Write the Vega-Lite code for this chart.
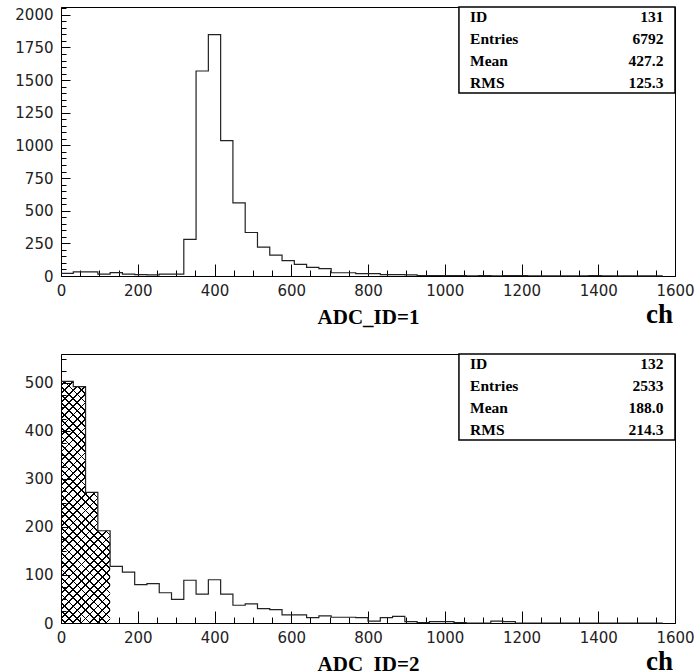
{
 "$schema": "https://vega.github.io/schema/vega-lite/v6.json",
 "background": "white",
 "padding": {"left": 14, "top": 0, "right": 4, "bottom": 0},
 "spacing": 22,
 "datasets": {
  "h131": [
   {"x":0,"n":20},{"x":32,"n":32},{"x":64,"n":32},{"x":96,"n":14},{"x":128,"n":26},{"x":160,"n":14},{"x":192,"n":10},{"x":224,"n":8},{"x":256,"n":14},{"x":288,"n":14},
   {"x":320,"n":280},{"x":352,"n":1570},{"x":384,"n":1848},{"x":416,"n":1036},{"x":448,"n":560},{"x":480,"n":333},{"x":512,"n":221},{"x":544,"n":160},{"x":576,"n":118},{"x":608,"n":89},
   {"x":640,"n":66},{"x":672,"n":56},{"x":704,"n":25},{"x":736,"n":25},{"x":768,"n":18},{"x":800,"n":18},{"x":832,"n":10},{"x":864,"n":10},{"x":896,"n":8},{"x":928,"n":4},
   {"x":960,"n":4},{"x":992,"n":3},{"x":1024,"n":3},{"x":1056,"n":2},{"x":1088,"n":3},{"x":1120,"n":2},{"x":1152,"n":3},{"x":1184,"n":3},{"x":1216,"n":2},{"x":1248,"n":1},
   {"x":1280,"n":1},{"x":1312,"n":1},{"x":1344,"n":2},{"x":1376,"n":3},{"x":1408,"n":2},{"x":1440,"n":1},{"x":1472,"n":1},{"x":1504,"n":1},{"x":1536,"n":1},{"x":1568,"n":1}
  ],
  "h132": [
   {"x":0,"n":503},{"x":32,"n":492},{"x":64,"n":272},{"x":96,"n":192},{"x":128,"n":118},{"x":160,"n":106},{"x":192,"n":80},{"x":224,"n":82},{"x":256,"n":63},{"x":288,"n":49},
   {"x":320,"n":89},{"x":352,"n":60},{"x":384,"n":90},{"x":416,"n":60},{"x":448,"n":37},{"x":480,"n":40},{"x":512,"n":30},{"x":544,"n":28},{"x":576,"n":17},{"x":608,"n":17},
   {"x":640,"n":11},{"x":672,"n":15},{"x":704,"n":12},{"x":736,"n":12},{"x":768,"n":11},{"x":800,"n":4},{"x":832,"n":11},{"x":864,"n":14},{"x":896,"n":3},{"x":928,"n":1},
   {"x":960,"n":3},{"x":992,"n":3},{"x":1024,"n":1},{"x":1056,"n":0},{"x":1088,"n":0},{"x":1120,"n":4},{"x":1152,"n":3},{"x":1184,"n":0},{"x":1216,"n":0},{"x":1248,"n":0},
   {"x":1280,"n":0},{"x":1312,"n":0},{"x":1344,"n":0},{"x":1376,"n":0},{"x":1408,"n":0},{"x":1440,"n":0},{"x":1472,"n":0},{"x":1504,"n":0},{"x":1536,"n":0},{"x":1568,"n":0}
  ]
 },
 "config": {
  "view": {"stroke": "black", "strokeWidth": 1},
  "axis": {"grid": false, "domainColor": "black", "domainWidth": 1, "tickColor": "black", "tickWidth": 1,
           "labelFont": "DejaVu Sans", "labelFontSize": 15, "labelColor": "#222", "labelOverlap": false, "labelFlush": false,
           "titleFont": "Liberation Serif", "titleFontWeight": "bold", "titleFontSize": 21, "titleColor": "black"}
 },
 "vconcat": [
  {
   "width": 614, "height": 269,
   "data": {"name": "h131"},
   "layer": [
    {"mark": {"type": "line", "interpolate": "step-after", "color": "#222", "strokeWidth": 1.2},
     "encoding": {
      "x": {"field": "x", "type": "quantitative", "scale": {"domain": [0, 1600], "nice": false},
            "axis": {"title": "ADC_ID=1", "format": "d", "values": [0,50,100,150,200,250,300,350,400,450,500,550,600,650,700,750,800,850,900,950,1000,1050,1100,1150,1200,1250,1300,1350,1400,1450,1500,1550,1600], "labelExpr": "datum.value % 200 === 0 ? datum.label : ''", "labelOverlap": false, "tickSize": {"expr": "datum.value % 200 === 0 ? -12 : -6"}, "labelPadding": 19, "titleY": 47, "titleBaseline": "alphabetic"}},
      "y": {"field": "n", "type": "quantitative", "scale": {"domain": [0, 2060], "nice": false},
            "axis": {"title": null, "format": "d", "values": [0,50,100,150,200,250,300,350,400,450,500,550,600,650,700,750,800,850,900,950,1000,1050,1100,1150,1200,1250,1300,1350,1400,1450,1500,1550,1600,1650,1700,1750,1800,1850,1900,1950,2000,2050], "labelExpr": "datum.value % 250 === 0 ? datum.label : ''", "labelOverlap": false, "tickSize": {"expr": "datum.value % 250 === 0 ? -9 : -5"}, "labelPadding": 17}}
     }},
    {"data": {"values": [{}]},
     "mark": {"type": "rect", "fill": "white", "stroke": "black", "strokeWidth": 1.5},
     "encoding": {
      "x": {"datum": 1037, "type": "quantitative", "axis": {"title": "ADC_ID=1", "format": "d", "values": [0,50,100,150,200,250,300,350,400,450,500,550,600,650,700,750,800,850,900,950,1000,1050,1100,1150,1200,1250,1300,1350,1400,1450,1500,1550,1600], "labelExpr": "datum.value % 200 === 0 ? datum.label : ''", "labelOverlap": false, "tickSize": {"expr": "datum.value % 200 === 0 ? -12 : -6"}, "labelPadding": 19, "titleY": 47, "titleBaseline": "alphabetic"}},
      "x2": {"datum": 1600},
      "y": {"datum": 1402, "type": "quantitative", "axis": {"title": null, "format": "d", "values": [0,50,100,150,200,250,300,350,400,450,500,550,600,650,700,750,800,850,900,950,1000,1050,1100,1150,1200,1250,1300,1350,1400,1450,1500,1550,1600,1650,1700,1750,1800,1850,1900,1950,2000,2050], "labelExpr": "datum.value % 250 === 0 ? datum.label : ''", "labelOverlap": false, "tickSize": {"expr": "datum.value % 250 === 0 ? -9 : -5"}, "labelPadding": 17}},
      "y2": {"datum": 2060}}},
    {"data": {"values": [{}]},
     "mark": {"type": "text", "align": "left", "baseline": "top", "font": "Liberation Serif", "fontWeight": "bold", "fontSize": 15.5, "lineHeight": 22, "dy": 3, "color": "black",
              "text": ["ID", "Entries", "Mean", "RMS"]},
     "encoding": {
      "x": {"datum": 1066, "type": "quantitative", "axis": {"title": "ADC_ID=1", "format": "d", "values": [0,50,100,150,200,250,300,350,400,450,500,550,600,650,700,750,800,850,900,950,1000,1050,1100,1150,1200,1250,1300,1350,1400,1450,1500,1550,1600], "labelExpr": "datum.value % 200 === 0 ? datum.label : ''", "labelOverlap": false, "tickSize": {"expr": "datum.value % 200 === 0 ? -12 : -6"}, "labelPadding": 19, "titleY": 47, "titleBaseline": "alphabetic"}},
      "y": {"datum": 2060, "type": "quantitative", "axis": {"title": null, "format": "d", "values": [0,50,100,150,200,250,300,350,400,450,500,550,600,650,700,750,800,850,900,950,1000,1050,1100,1150,1200,1250,1300,1350,1400,1450,1500,1550,1600,1650,1700,1750,1800,1850,1900,1950,2000,2050], "labelExpr": "datum.value % 250 === 0 ? datum.label : ''", "labelOverlap": false, "tickSize": {"expr": "datum.value % 250 === 0 ? -9 : -5"}, "labelPadding": 17}}}},
    {"data": {"values": [{}]},
     "mark": {"type": "text", "align": "right", "baseline": "top", "font": "Liberation Serif", "fontWeight": "bold", "fontSize": 15.5, "lineHeight": 22, "dy": 3, "color": "black",
              "text": ["131", "6792", "427.2", "125.3"]},
     "encoding": {
      "x": {"datum": 1570, "type": "quantitative", "axis": {"title": "ADC_ID=1", "format": "d", "values": [0,50,100,150,200,250,300,350,400,450,500,550,600,650,700,750,800,850,900,950,1000,1050,1100,1150,1200,1250,1300,1350,1400,1450,1500,1550,1600], "labelExpr": "datum.value % 200 === 0 ? datum.label : ''", "labelOverlap": false, "tickSize": {"expr": "datum.value % 200 === 0 ? -12 : -6"}, "labelPadding": 19, "titleY": 47, "titleBaseline": "alphabetic"}},
      "y": {"datum": 2060, "type": "quantitative", "axis": {"title": null, "format": "d", "values": [0,50,100,150,200,250,300,350,400,450,500,550,600,650,700,750,800,850,900,950,1000,1050,1100,1150,1200,1250,1300,1350,1400,1450,1500,1550,1600,1650,1700,1750,1800,1850,1900,1950,2000,2050], "labelExpr": "datum.value % 250 === 0 ? datum.label : ''", "labelOverlap": false, "tickSize": {"expr": "datum.value % 250 === 0 ? -9 : -5"}, "labelPadding": 17}}}},
    {"data": {"values": [{}]},
     "mark": {"type": "text", "align": "right", "baseline": "alphabetic", "font": "Liberation Serif", "fontWeight": "bold", "fontSize": 27, "dx": -2, "dy": 47, "color": "black", "text": "ch"},
     "encoding": {
      "x": {"datum": 1600, "type": "quantitative", "axis": {"title": "ADC_ID=1", "format": "d", "values": [0,50,100,150,200,250,300,350,400,450,500,550,600,650,700,750,800,850,900,950,1000,1050,1100,1150,1200,1250,1300,1350,1400,1450,1500,1550,1600], "labelExpr": "datum.value % 200 === 0 ? datum.label : ''", "labelOverlap": false, "tickSize": {"expr": "datum.value % 200 === 0 ? -12 : -6"}, "labelPadding": 19, "titleY": 47, "titleBaseline": "alphabetic"}},
      "y": {"datum": 0, "type": "quantitative", "axis": {"title": null, "format": "d", "values": [0,50,100,150,200,250,300,350,400,450,500,550,600,650,700,750,800,850,900,950,1000,1050,1100,1150,1200,1250,1300,1350,1400,1450,1500,1550,1600,1650,1700,1750,1800,1850,1900,1950,2000,2050], "labelExpr": "datum.value % 250 === 0 ? datum.label : ''", "labelOverlap": false, "tickSize": {"expr": "datum.value % 250 === 0 ? -9 : -5"}, "labelPadding": 17}}}}
   ]
  },
  {
   "width": 614, "height": 269,
   "data": {"name": "h132"},
   "layer": [
    {"transform": [{"filter": "datum.x <= 128"}],
     "mark": {"type": "area", "interpolate": "step-after",
              "fill": {"gradient": "linear", "x1": 0, "y1": 1, "x2": 0.2349, "y2": -0.1556, "stops": [
{"offset":0.0113,"color":"transparent"},{"offset":0.0113,"color":"#000"},{"offset":0.0173,"color":"#000"},{"offset":0.0173,"color":"transparent"},
{"offset":0.0399,"color":"transparent"},{"offset":0.0399,"color":"#000"},{"offset":0.0459,"color":"#000"},{"offset":0.0459,"color":"transparent"},
{"offset":0.0684,"color":"transparent"},{"offset":0.0684,"color":"#000"},{"offset":0.0744,"color":"#000"},{"offset":0.0744,"color":"transparent"},
{"offset":0.0970,"color":"transparent"},{"offset":0.0970,"color":"#000"},{"offset":0.1030,"color":"#000"},{"offset":0.1030,"color":"transparent"},
{"offset":0.1256,"color":"transparent"},{"offset":0.1256,"color":"#000"},{"offset":0.1316,"color":"#000"},{"offset":0.1316,"color":"transparent"},
{"offset":0.1541,"color":"transparent"},{"offset":0.1541,"color":"#000"},{"offset":0.1601,"color":"#000"},{"offset":0.1601,"color":"transparent"},
{"offset":0.1827,"color":"transparent"},{"offset":0.1827,"color":"#000"},{"offset":0.1887,"color":"#000"},{"offset":0.1887,"color":"transparent"},
{"offset":0.2113,"color":"transparent"},{"offset":0.2113,"color":"#000"},{"offset":0.2173,"color":"#000"},{"offset":0.2173,"color":"transparent"},
{"offset":0.2399,"color":"transparent"},{"offset":0.2399,"color":"#000"},{"offset":0.2459,"color":"#000"},{"offset":0.2459,"color":"transparent"},
{"offset":0.2684,"color":"transparent"},{"offset":0.2684,"color":"#000"},{"offset":0.2744,"color":"#000"},{"offset":0.2744,"color":"transparent"},
{"offset":0.2970,"color":"transparent"},{"offset":0.2970,"color":"#000"},{"offset":0.3030,"color":"#000"},{"offset":0.3030,"color":"transparent"},
{"offset":0.3256,"color":"transparent"},{"offset":0.3256,"color":"#000"},{"offset":0.3316,"color":"#000"},{"offset":0.3316,"color":"transparent"},
{"offset":0.3541,"color":"transparent"},{"offset":0.3541,"color":"#000"},{"offset":0.3601,"color":"#000"},{"offset":0.3601,"color":"transparent"},
{"offset":0.3827,"color":"transparent"},{"offset":0.3827,"color":"#000"},{"offset":0.3887,"color":"#000"},{"offset":0.3887,"color":"transparent"},
{"offset":0.4113,"color":"transparent"},{"offset":0.4113,"color":"#000"},{"offset":0.4173,"color":"#000"},{"offset":0.4173,"color":"transparent"},
{"offset":0.4399,"color":"transparent"},{"offset":0.4399,"color":"#000"},{"offset":0.4459,"color":"#000"},{"offset":0.4459,"color":"transparent"},
{"offset":0.4684,"color":"transparent"},{"offset":0.4684,"color":"#000"},{"offset":0.4744,"color":"#000"},{"offset":0.4744,"color":"transparent"},
{"offset":0.4970,"color":"transparent"},{"offset":0.4970,"color":"#000"},{"offset":0.5030,"color":"#000"},{"offset":0.5030,"color":"transparent"},
{"offset":0.5256,"color":"transparent"},{"offset":0.5256,"color":"#000"},{"offset":0.5316,"color":"#000"},{"offset":0.5316,"color":"transparent"},
{"offset":0.5541,"color":"transparent"},{"offset":0.5541,"color":"#000"},{"offset":0.5601,"color":"#000"},{"offset":0.5601,"color":"transparent"},
{"offset":0.5827,"color":"transparent"},{"offset":0.5827,"color":"#000"},{"offset":0.5887,"color":"#000"},{"offset":0.5887,"color":"transparent"},
{"offset":0.6113,"color":"transparent"},{"offset":0.6113,"color":"#000"},{"offset":0.6173,"color":"#000"},{"offset":0.6173,"color":"transparent"},
{"offset":0.6399,"color":"transparent"},{"offset":0.6399,"color":"#000"},{"offset":0.6459,"color":"#000"},{"offset":0.6459,"color":"transparent"},
{"offset":0.6684,"color":"transparent"},{"offset":0.6684,"color":"#000"},{"offset":0.6744,"color":"#000"},{"offset":0.6744,"color":"transparent"},
{"offset":0.6970,"color":"transparent"},{"offset":0.6970,"color":"#000"},{"offset":0.7030,"color":"#000"},{"offset":0.7030,"color":"transparent"},
{"offset":0.7256,"color":"transparent"},{"offset":0.7256,"color":"#000"},{"offset":0.7316,"color":"#000"},{"offset":0.7316,"color":"transparent"},
{"offset":0.7541,"color":"transparent"},{"offset":0.7541,"color":"#000"},{"offset":0.7601,"color":"#000"},{"offset":0.7601,"color":"transparent"},
{"offset":0.7827,"color":"transparent"},{"offset":0.7827,"color":"#000"},{"offset":0.7887,"color":"#000"},{"offset":0.7887,"color":"transparent"},
{"offset":0.8113,"color":"transparent"},{"offset":0.8113,"color":"#000"},{"offset":0.8173,"color":"#000"},{"offset":0.8173,"color":"transparent"},
{"offset":0.8399,"color":"transparent"},{"offset":0.8399,"color":"#000"},{"offset":0.8459,"color":"#000"},{"offset":0.8459,"color":"transparent"},
{"offset":0.8684,"color":"transparent"},{"offset":0.8684,"color":"#000"},{"offset":0.8744,"color":"#000"},{"offset":0.8744,"color":"transparent"},
{"offset":0.8970,"color":"transparent"},{"offset":0.8970,"color":"#000"},{"offset":0.9030,"color":"#000"},{"offset":0.9030,"color":"transparent"},
{"offset":0.9256,"color":"transparent"},{"offset":0.9256,"color":"#000"},{"offset":0.9316,"color":"#000"},{"offset":0.9316,"color":"transparent"},
{"offset":0.9541,"color":"transparent"},{"offset":0.9541,"color":"#000"},{"offset":0.9601,"color":"#000"},{"offset":0.9601,"color":"transparent"},
{"offset":0.9827,"color":"transparent"},{"offset":0.9827,"color":"#000"},{"offset":0.9887,"color":"#000"},{"offset":0.9887,"color":"transparent"}
              ]}},
     "encoding": {
      "x": {"field": "x", "type": "quantitative", "scale": {"domain": [0, 1600], "nice": false}, "axis": {"title": "ADC_ID=2", "format": "d", "values": [0,50,100,150,200,250,300,350,400,450,500,550,600,650,700,750,800,850,900,950,1000,1050,1100,1150,1200,1250,1300,1350,1400,1450,1500,1550,1600], "labelExpr": "datum.value % 200 === 0 ? datum.label : ''", "labelOverlap": false, "tickSize": {"expr": "datum.value % 200 === 0 ? -12 : -6"}, "labelPadding": 19, "titleY": 47, "titleBaseline": "alphabetic"}},
      "y": {"field": "n", "type": "quantitative", "scale": {"domain": [0, 560], "nice": false}, "axis": {"title": null, "format": "d", "values": [0,25,50,75,100,125,150,175,200,225,250,275,300,325,350,375,400,425,450,475,500,525,550], "labelExpr": "datum.value % 100 === 0 ? datum.label : ''", "labelOverlap": false, "tickSize": {"expr": "datum.value % 100 === 0 ? -9 : -5"}, "labelPadding": 17}}}},
    {"transform": [{"filter": "datum.x <= 128"}],
     "mark": {"type": "area", "interpolate": "step-after",
              "fill": {"gradient": "linear", "x1": 0, "y1": 0, "x2": 0.2349, "y2": 1.1556, "stops": [
{"offset":0.0113,"color":"transparent"},{"offset":0.0113,"color":"#000"},{"offset":0.0173,"color":"#000"},{"offset":0.0173,"color":"transparent"},
{"offset":0.0399,"color":"transparent"},{"offset":0.0399,"color":"#000"},{"offset":0.0459,"color":"#000"},{"offset":0.0459,"color":"transparent"},
{"offset":0.0684,"color":"transparent"},{"offset":0.0684,"color":"#000"},{"offset":0.0744,"color":"#000"},{"offset":0.0744,"color":"transparent"},
{"offset":0.0970,"color":"transparent"},{"offset":0.0970,"color":"#000"},{"offset":0.1030,"color":"#000"},{"offset":0.1030,"color":"transparent"},
{"offset":0.1256,"color":"transparent"},{"offset":0.1256,"color":"#000"},{"offset":0.1316,"color":"#000"},{"offset":0.1316,"color":"transparent"},
{"offset":0.1541,"color":"transparent"},{"offset":0.1541,"color":"#000"},{"offset":0.1601,"color":"#000"},{"offset":0.1601,"color":"transparent"},
{"offset":0.1827,"color":"transparent"},{"offset":0.1827,"color":"#000"},{"offset":0.1887,"color":"#000"},{"offset":0.1887,"color":"transparent"},
{"offset":0.2113,"color":"transparent"},{"offset":0.2113,"color":"#000"},{"offset":0.2173,"color":"#000"},{"offset":0.2173,"color":"transparent"},
{"offset":0.2399,"color":"transparent"},{"offset":0.2399,"color":"#000"},{"offset":0.2459,"color":"#000"},{"offset":0.2459,"color":"transparent"},
{"offset":0.2684,"color":"transparent"},{"offset":0.2684,"color":"#000"},{"offset":0.2744,"color":"#000"},{"offset":0.2744,"color":"transparent"},
{"offset":0.2970,"color":"transparent"},{"offset":0.2970,"color":"#000"},{"offset":0.3030,"color":"#000"},{"offset":0.3030,"color":"transparent"},
{"offset":0.3256,"color":"transparent"},{"offset":0.3256,"color":"#000"},{"offset":0.3316,"color":"#000"},{"offset":0.3316,"color":"transparent"},
{"offset":0.3541,"color":"transparent"},{"offset":0.3541,"color":"#000"},{"offset":0.3601,"color":"#000"},{"offset":0.3601,"color":"transparent"},
{"offset":0.3827,"color":"transparent"},{"offset":0.3827,"color":"#000"},{"offset":0.3887,"color":"#000"},{"offset":0.3887,"color":"transparent"},
{"offset":0.4113,"color":"transparent"},{"offset":0.4113,"color":"#000"},{"offset":0.4173,"color":"#000"},{"offset":0.4173,"color":"transparent"},
{"offset":0.4399,"color":"transparent"},{"offset":0.4399,"color":"#000"},{"offset":0.4459,"color":"#000"},{"offset":0.4459,"color":"transparent"},
{"offset":0.4684,"color":"transparent"},{"offset":0.4684,"color":"#000"},{"offset":0.4744,"color":"#000"},{"offset":0.4744,"color":"transparent"},
{"offset":0.4970,"color":"transparent"},{"offset":0.4970,"color":"#000"},{"offset":0.5030,"color":"#000"},{"offset":0.5030,"color":"transparent"},
{"offset":0.5256,"color":"transparent"},{"offset":0.5256,"color":"#000"},{"offset":0.5316,"color":"#000"},{"offset":0.5316,"color":"transparent"},
{"offset":0.5541,"color":"transparent"},{"offset":0.5541,"color":"#000"},{"offset":0.5601,"color":"#000"},{"offset":0.5601,"color":"transparent"},
{"offset":0.5827,"color":"transparent"},{"offset":0.5827,"color":"#000"},{"offset":0.5887,"color":"#000"},{"offset":0.5887,"color":"transparent"},
{"offset":0.6113,"color":"transparent"},{"offset":0.6113,"color":"#000"},{"offset":0.6173,"color":"#000"},{"offset":0.6173,"color":"transparent"},
{"offset":0.6399,"color":"transparent"},{"offset":0.6399,"color":"#000"},{"offset":0.6459,"color":"#000"},{"offset":0.6459,"color":"transparent"},
{"offset":0.6684,"color":"transparent"},{"offset":0.6684,"color":"#000"},{"offset":0.6744,"color":"#000"},{"offset":0.6744,"color":"transparent"},
{"offset":0.6970,"color":"transparent"},{"offset":0.6970,"color":"#000"},{"offset":0.7030,"color":"#000"},{"offset":0.7030,"color":"transparent"},
{"offset":0.7256,"color":"transparent"},{"offset":0.7256,"color":"#000"},{"offset":0.7316,"color":"#000"},{"offset":0.7316,"color":"transparent"},
{"offset":0.7541,"color":"transparent"},{"offset":0.7541,"color":"#000"},{"offset":0.7601,"color":"#000"},{"offset":0.7601,"color":"transparent"},
{"offset":0.7827,"color":"transparent"},{"offset":0.7827,"color":"#000"},{"offset":0.7887,"color":"#000"},{"offset":0.7887,"color":"transparent"},
{"offset":0.8113,"color":"transparent"},{"offset":0.8113,"color":"#000"},{"offset":0.8173,"color":"#000"},{"offset":0.8173,"color":"transparent"},
{"offset":0.8399,"color":"transparent"},{"offset":0.8399,"color":"#000"},{"offset":0.8459,"color":"#000"},{"offset":0.8459,"color":"transparent"},
{"offset":0.8684,"color":"transparent"},{"offset":0.8684,"color":"#000"},{"offset":0.8744,"color":"#000"},{"offset":0.8744,"color":"transparent"},
{"offset":0.8970,"color":"transparent"},{"offset":0.8970,"color":"#000"},{"offset":0.9030,"color":"#000"},{"offset":0.9030,"color":"transparent"},
{"offset":0.9256,"color":"transparent"},{"offset":0.9256,"color":"#000"},{"offset":0.9316,"color":"#000"},{"offset":0.9316,"color":"transparent"},
{"offset":0.9541,"color":"transparent"},{"offset":0.9541,"color":"#000"},{"offset":0.9601,"color":"#000"},{"offset":0.9601,"color":"transparent"},
{"offset":0.9827,"color":"transparent"},{"offset":0.9827,"color":"#000"},{"offset":0.9887,"color":"#000"},{"offset":0.9887,"color":"transparent"}
              ]}},
     "encoding": {
      "x": {"field": "x", "type": "quantitative", "scale": {"domain": [0, 1600], "nice": false}, "axis": {"title": "ADC_ID=2", "format": "d", "values": [0,50,100,150,200,250,300,350,400,450,500,550,600,650,700,750,800,850,900,950,1000,1050,1100,1150,1200,1250,1300,1350,1400,1450,1500,1550,1600], "labelExpr": "datum.value % 200 === 0 ? datum.label : ''", "labelOverlap": false, "tickSize": {"expr": "datum.value % 200 === 0 ? -12 : -6"}, "labelPadding": 19, "titleY": 47, "titleBaseline": "alphabetic"}},
      "y": {"field": "n", "type": "quantitative", "scale": {"domain": [0, 560], "nice": false}, "axis": {"title": null, "format": "d", "values": [0,25,50,75,100,125,150,175,200,225,250,275,300,325,350,375,400,425,450,475,500,525,550], "labelExpr": "datum.value % 100 === 0 ? datum.label : ''", "labelOverlap": false, "tickSize": {"expr": "datum.value % 100 === 0 ? -9 : -5"}, "labelPadding": 17}}}},
    {"mark": {"type": "line", "interpolate": "step-after", "color": "#222", "strokeWidth": 1.2},
     "encoding": {
      "x": {"field": "x", "type": "quantitative", "scale": {"domain": [0, 1600], "nice": false}, "axis": {"title": "ADC_ID=2", "format": "d", "values": [0,50,100,150,200,250,300,350,400,450,500,550,600,650,700,750,800,850,900,950,1000,1050,1100,1150,1200,1250,1300,1350,1400,1450,1500,1550,1600], "labelExpr": "datum.value % 200 === 0 ? datum.label : ''", "labelOverlap": false, "tickSize": {"expr": "datum.value % 200 === 0 ? -12 : -6"}, "labelPadding": 19, "titleY": 47, "titleBaseline": "alphabetic"}},
      "y": {"field": "n", "type": "quantitative", "scale": {"domain": [0, 560], "nice": false}, "axis": {"title": null, "format": "d", "values": [0,25,50,75,100,125,150,175,200,225,250,275,300,325,350,375,400,425,450,475,500,525,550], "labelExpr": "datum.value % 100 === 0 ? datum.label : ''", "labelOverlap": false, "tickSize": {"expr": "datum.value % 100 === 0 ? -9 : -5"}, "labelPadding": 17}}}},
    {"data": {"values": [{}]},
     "mark": {"type": "rect", "fill": "white", "stroke": "black", "strokeWidth": 1.5},
     "encoding": {
      "x": {"datum": 1037, "type": "quantitative", "axis": {"title": "ADC_ID=2", "format": "d", "values": [0,50,100,150,200,250,300,350,400,450,500,550,600,650,700,750,800,850,900,950,1000,1050,1100,1150,1200,1250,1300,1350,1400,1450,1500,1550,1600], "labelExpr": "datum.value % 200 === 0 ? datum.label : ''", "labelOverlap": false, "tickSize": {"expr": "datum.value % 200 === 0 ? -12 : -6"}, "labelPadding": 19, "titleY": 47, "titleBaseline": "alphabetic"}},
      "x2": {"datum": 1600},
      "y": {"datum": 381, "type": "quantitative", "axis": {"title": null, "format": "d", "values": [0,25,50,75,100,125,150,175,200,225,250,275,300,325,350,375,400,425,450,475,500,525,550], "labelExpr": "datum.value % 100 === 0 ? datum.label : ''", "labelOverlap": false, "tickSize": {"expr": "datum.value % 100 === 0 ? -9 : -5"}, "labelPadding": 17}},
      "y2": {"datum": 560}}},
    {"data": {"values": [{}]},
     "mark": {"type": "text", "align": "left", "baseline": "top", "font": "Liberation Serif", "fontWeight": "bold", "fontSize": 15.5, "lineHeight": 22, "dy": 3, "color": "black",
              "text": ["ID", "Entries", "Mean", "RMS"]},
     "encoding": {
      "x": {"datum": 1066, "type": "quantitative", "axis": {"title": "ADC_ID=2", "format": "d", "values": [0,50,100,150,200,250,300,350,400,450,500,550,600,650,700,750,800,850,900,950,1000,1050,1100,1150,1200,1250,1300,1350,1400,1450,1500,1550,1600], "labelExpr": "datum.value % 200 === 0 ? datum.label : ''", "labelOverlap": false, "tickSize": {"expr": "datum.value % 200 === 0 ? -12 : -6"}, "labelPadding": 19, "titleY": 47, "titleBaseline": "alphabetic"}},
      "y": {"datum": 560, "type": "quantitative", "axis": {"title": null, "format": "d", "values": [0,25,50,75,100,125,150,175,200,225,250,275,300,325,350,375,400,425,450,475,500,525,550], "labelExpr": "datum.value % 100 === 0 ? datum.label : ''", "labelOverlap": false, "tickSize": {"expr": "datum.value % 100 === 0 ? -9 : -5"}, "labelPadding": 17}}}},
    {"data": {"values": [{}]},
     "mark": {"type": "text", "align": "right", "baseline": "top", "font": "Liberation Serif", "fontWeight": "bold", "fontSize": 15.5, "lineHeight": 22, "dy": 3, "color": "black",
              "text": ["132", "2533", "188.0", "214.3"]},
     "encoding": {
      "x": {"datum": 1570, "type": "quantitative", "axis": {"title": "ADC_ID=2", "format": "d", "values": [0,50,100,150,200,250,300,350,400,450,500,550,600,650,700,750,800,850,900,950,1000,1050,1100,1150,1200,1250,1300,1350,1400,1450,1500,1550,1600], "labelExpr": "datum.value % 200 === 0 ? datum.label : ''", "labelOverlap": false, "tickSize": {"expr": "datum.value % 200 === 0 ? -12 : -6"}, "labelPadding": 19, "titleY": 47, "titleBaseline": "alphabetic"}},
      "y": {"datum": 560, "type": "quantitative", "axis": {"title": null, "format": "d", "values": [0,25,50,75,100,125,150,175,200,225,250,275,300,325,350,375,400,425,450,475,500,525,550], "labelExpr": "datum.value % 100 === 0 ? datum.label : ''", "labelOverlap": false, "tickSize": {"expr": "datum.value % 100 === 0 ? -9 : -5"}, "labelPadding": 17}}}},
    {"data": {"values": [{}]},
     "mark": {"type": "text", "align": "right", "baseline": "alphabetic", "font": "Liberation Serif", "fontWeight": "bold", "fontSize": 27, "dx": -2, "dy": 47, "color": "black", "text": "ch"},
     "encoding": {
      "x": {"datum": 1600, "type": "quantitative", "axis": {"title": "ADC_ID=2", "format": "d", "values": [0,50,100,150,200,250,300,350,400,450,500,550,600,650,700,750,800,850,900,950,1000,1050,1100,1150,1200,1250,1300,1350,1400,1450,1500,1550,1600], "labelExpr": "datum.value % 200 === 0 ? datum.label : ''", "labelOverlap": false, "tickSize": {"expr": "datum.value % 200 === 0 ? -12 : -6"}, "labelPadding": 19, "titleY": 47, "titleBaseline": "alphabetic"}},
      "y": {"datum": 0, "type": "quantitative", "axis": {"title": null, "format": "d", "values": [0,25,50,75,100,125,150,175,200,225,250,275,300,325,350,375,400,425,450,475,500,525,550], "labelExpr": "datum.value % 100 === 0 ? datum.label : ''", "labelOverlap": false, "tickSize": {"expr": "datum.value % 100 === 0 ? -9 : -5"}, "labelPadding": 17}}}}
   ]
  }
 ]
}
